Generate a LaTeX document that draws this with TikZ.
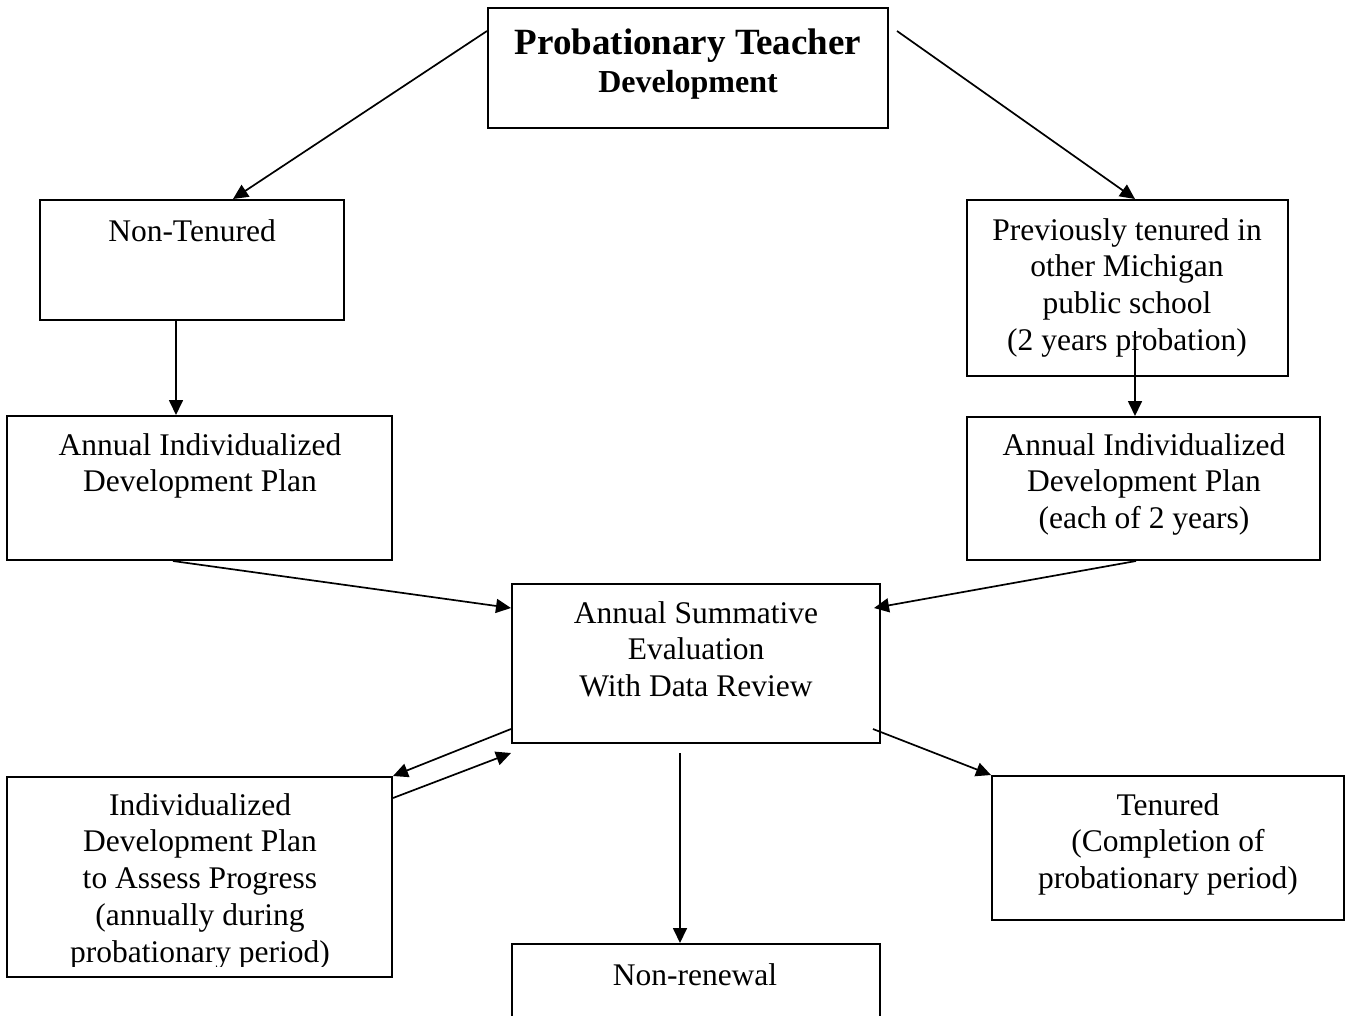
\documentclass[tikz,border=0pt]{standalone}
\usepackage{fontspec}
\setmainfont{Liberation Serif}
\usetikzlibrary{arrows.meta}
\begin{document}
\begin{tikzpicture}[x=1pt,y=-1pt,
  box/.style={draw,line width=2pt,inner sep=0pt},
  txt/.style={align=center,inner sep=0pt,anchor=north,font=\fontsize{31.5}{36.7}\selectfont},
  arr/.style={line width=1.7pt,-{Triangle[length=15pt,width=14pt]}}]
\useasboundingbox (0,0) rectangle (1346,1015);
\fill[white] (0,0) rectangle (1346,1015);
% boxes
\node[box,minimum width=400pt,minimum height=120pt] (top) at (688,68) {};
\node[box,minimum width=304pt,minimum height=120pt] (nt) at (192,260) {};
\node[box,minimum width=321pt,minimum height=176pt] (pt) at (1127.5,288) {};
\node[box,minimum width=385pt,minimum height=144pt] (aidl) at (199.5,488) {};
\node[box,minimum width=353pt,minimum height=143pt] (aidr) at (1143.5,488.5) {};
\node[box,minimum width=368pt,minimum height=159pt] (sum) at (696,663.5) {};
\node[box,minimum width=385pt,minimum height=200pt] (idp) at (199.5,877) {};
\node[box,minimum width=352pt,minimum height=144pt] (ten) at (1168,848) {};
\node[box,minimum width=368pt,minimum height=116pt] (nr) at (696,1002) {};
% texts
\node[anchor=base,inner sep=0pt,font=\fontsize{37}{44}\selectfont\bfseries] (title1) at (688,54) {Probationary Teacher};
\node[anchor=base,inner sep=0pt,font=\fontsize{32}{38}\selectfont\bfseries] (title2) at (688,92) {Development};
\node[txt] (nt-t) at (192,215) {\rule{0pt}{26pt}Non-Tenured};
\node[txt] (pt-t) at (1127,214) {\rule{0pt}{26pt}Previously tenured in\\other Michigan\\public school\\(2 years probation)};
\node[txt] (aidl-t) at (200,429) {\rule{0pt}{26pt}Annual Individualized\\Development Plan};
\node[txt] (aidr-t) at (1144,429) {\rule{0pt}{26pt}Annual Individualized\\Development Plan\\(each of 2 years)};
\node[txt] (sum-t) at (696,597) {\rule{0pt}{26pt}Annual Summative\\Evaluation\\With Data Review};
\begin{scope}
\clip (7,777) rectangle (392,966);
\node[txt] (idp-t) at (200,789) {\rule{0pt}{26pt}Individualized\\Development Plan\\to Assess Progress\\(annually during\\probationary period)};
\end{scope}
\node[txt] (ten-t) at (1168,789) {\rule{0pt}{26pt}Tenured\\(Completion of\\probationary period)};
\node[txt] (nr-t) at (695,959) {\rule{0pt}{26pt}Non-renewal};
% connectors
\coordinate (a1s) at ([yshift=-24pt]top.north west);
\coordinate (a2s) at ([xshift=8pt,yshift=-24pt]top.north east);
\coordinate (a4s) at ([xshift=7.5pt,yshift=46pt]pt.south);
\draw[arr] (a1s) -- ([xshift=41pt]nt.north);
\draw[arr] (a2s) -- ([xshift=7.5pt]pt.north);
\draw[arr] ([xshift=-16pt]nt.south) -- ([xshift=-23.5pt]aidl.north);
\draw[arr] (a4s) -- ([xshift=-8.5pt]aidr.north);
\draw[arr] ([xshift=-26.5pt]aidl.south) -- ([yshift=55.5pt]sum.west);
\draw[arr] ([xshift=-7.5pt]aidr.south) -- ([xshift=-7pt,yshift=55.5pt]sum.east);
\draw[arr] ([yshift=15pt]sum.south west) -- (idp.north east);
\draw[arr] ([yshift=-22pt]idp.north east) -- ([yshift=-9pt]sum.south west);
\draw[arr] ([xshift=-16pt,yshift=-9pt]sum.south) -- ([xshift=-16pt]nr.north);
\draw[arr] ([xshift=-8pt,yshift=15pt]sum.south east) -- (ten.north west);
\end{tikzpicture}
\end{document}
